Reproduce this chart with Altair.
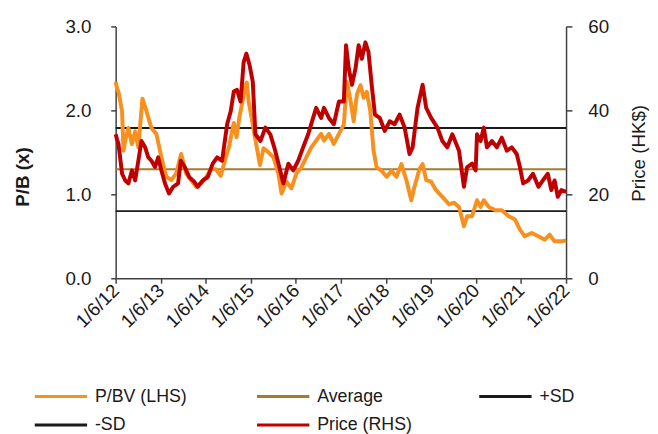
import altair as alt
import pandas as pd

# ---- data (decimal years) ----
pb_years = [2012.417, 2012.45, 2012.48, 2012.56, 2012.59, 2012.63, 2012.70, 2012.78, 2012.85, 2012.92,
            2013.01, 2013.10, 2013.21, 2013.32, 2013.43, 2013.54, 2013.65, 2013.76, 2013.87, 2013.98,
            2014.09, 2014.20, 2014.31, 2014.42, 2014.53, 2014.64, 2014.75, 2014.86, 2014.93, 2015.04,
            2015.10, 2015.16, 2015.23, 2015.30, 2015.33, 2015.37, 2015.44, 2015.52, 2015.62, 2015.70,
            2015.81, 2015.92, 2016.03, 2016.10, 2016.21, 2016.32, 2016.43, 2016.54, 2016.65, 2016.76,
            2016.87, 2016.98, 2017.04, 2017.15, 2017.26, 2017.37, 2017.48, 2017.55, 2017.63, 2017.70,
            2017.77, 2017.85, 2017.92, 2017.99, 2018.07, 2018.14, 2018.21, 2018.32, 2018.43, 2018.54,
            2018.65, 2018.76, 2018.87, 2018.98, 2019.05, 2019.16, 2019.23, 2019.31, 2019.42, 2019.53,
            2019.67, 2019.82, 2019.93, 2020.04, 2020.15, 2020.22, 2020.33, 2020.44, 2020.52, 2020.59,
            2020.70, 2020.85, 2020.99, 2021.14, 2021.28, 2021.39, 2021.50, 2021.65, 2021.80, 2021.94,
            2022.05, 2022.16, 2022.31, 2022.417]
pb_values = [2.34, 2.26, 2.22, 1.99, 1.52, 1.64, 1.79, 1.60, 1.75, 1.56,
             2.14, 1.99, 1.79, 1.72, 1.44, 1.21, 1.17, 1.25, 1.48, 1.25,
             1.17, 1.09, 1.13, 1.20, 1.30, 1.30, 1.22, 1.44, 1.56, 1.85,
             1.68, 1.91, 2.10, 2.30, 2.33, 2.10, 1.90, 1.65, 1.35, 1.55,
             1.50, 1.44, 1.25, 1.01, 1.15, 1.07, 1.25, 1.32, 1.44, 1.56,
             1.64, 1.72, 1.64, 1.72, 1.60, 1.72, 1.83, 2.34, 2.11, 1.87,
             2.19, 2.30, 2.15, 2.22, 1.99, 1.52, 1.32, 1.28, 1.21, 1.28,
             1.21, 1.36, 1.17, 0.93, 1.09, 1.30, 1.36, 1.17, 1.15, 1.05,
             0.97, 0.88, 0.90, 0.85, 0.62, 0.74, 0.74, 0.93, 0.85, 0.93,
             0.85, 0.81, 0.81, 0.74, 0.70, 0.58, 0.50, 0.54, 0.50, 0.46,
             0.52, 0.44, 0.44, 0.45]

px_years = [2012.417, 2012.45, 2012.48, 2012.56, 2012.63, 2012.70, 2012.78, 2012.85, 2012.92, 2012.99,
            2013.07, 2013.14, 2013.21, 2013.29, 2013.36, 2013.43, 2013.51, 2013.60, 2013.69, 2013.80,
            2013.86, 2013.95, 2014.05, 2014.16, 2014.24, 2014.35, 2014.46, 2014.57, 2014.67, 2014.78,
            2014.89, 2014.97, 2015.04, 2015.11, 2015.19, 2015.26, 2015.32, 2015.39, 2015.46, 2015.52,
            2015.63, 2015.74, 2015.85, 2015.96, 2016.07, 2016.14, 2016.25, 2016.36, 2016.47, 2016.58,
            2016.69, 2016.80, 2016.87, 2016.98, 2017.04, 2017.15, 2017.26, 2017.37, 2017.48, 2017.53,
            2017.59, 2017.66, 2017.74, 2017.81, 2017.88, 2017.96, 2018.03, 2018.10, 2018.17, 2018.28,
            2018.39, 2018.50, 2018.61, 2018.72, 2018.83, 2018.94, 2019.01, 2019.12, 2019.23, 2019.31,
            2019.42, 2019.56, 2019.67, 2019.78, 2019.89, 2020.04, 2020.15, 2020.22, 2020.33, 2020.41,
            2020.44, 2020.52, 2020.59, 2020.66, 2020.77, 2020.88, 2020.99, 2021.10, 2021.21, 2021.32,
            2021.39, 2021.46, 2021.57, 2021.68, 2021.80, 2021.90, 2022.01, 2022.09, 2022.16, 2022.23,
            2022.31, 2022.417]
px_values = [34.3, 33.0, 32.0, 24.9, 23.3, 22.6, 25.7, 23.3, 28.0, 32.7,
             31.2, 28.8, 28.0, 26.5, 28.8, 25.7, 22.6, 20.2, 21.8, 22.6,
             28.0, 26.5, 24.1, 23.0, 21.8, 23.3, 24.1, 27.3, 28.8, 28.0,
             36.7, 39.8, 44.5, 44.9, 42.1, 51.5, 53.5, 50.8, 46.8, 34.3,
             32.7, 35.9, 34.3, 30.4, 25.7, 22.6, 27.3, 25.7, 28.0, 31.2,
             34.3, 38.2, 40.6, 38.2, 40.6, 38.2, 36.7, 42.1, 42.1, 55.5,
             50.0, 46.1, 50.0, 55.5, 52.3, 56.2, 53.9, 46.1, 39.0, 38.2,
             35.1, 37.4, 36.7, 39.0, 35.9, 29.6, 31.2, 40.6, 46.1, 40.6,
             38.2, 35.9, 32.7, 31.2, 34.3, 30.4, 21.8, 26.5, 27.3, 25.7,
             34.3, 32.7, 35.9, 31.2, 32.7, 31.2, 33.5, 30.4, 31.2, 29.6,
             26.5, 22.6, 23.3, 24.9, 21.8, 23.3, 24.9, 21.0, 23.3, 19.4,
             21.0, 20.6]

ref_names = ["Average", "+SD", "-SD"]
ref_values = [1.30, 1.79, 0.80]

series_names = ["P/BV (LHS)", "Average", "+SD", "-SD", "Price (RHS)"]
series_colors = ["#F7901E", "#A57B2C", "#1A1A1A", "#1A1A1A", "#C00000"]
tick_years = list(range(2012, 2023))


def to_date(y):
    yr = int(y)
    start = pd.Timestamp(year=yr, month=1, day=1)
    return (start + pd.Timedelta(days=(y - yr) * 365.25)).strftime("%Y-%m-%dT00:00:00")


pb_df = pd.DataFrame({"date": [to_date(y) for y in pb_years], "pb": pb_values, "series": "P/BV (LHS)"})
px_df = pd.DataFrame({"date": [to_date(y) for y in px_years], "price": px_values, "series": "Price (RHS)"})
ref_df = pd.DataFrame({"pb": ref_values, "series": ref_names})

FONT = "Liberation Sans"

x_enc = alt.X(
    "date:T",
    scale=alt.Scale(domain=[alt.DateTime(year=2012, month=6, date=1), alt.DateTime(year=2022, month=6, date=1)]),
    axis=alt.Axis(
        values=[alt.DateTime(year=y, month=6, date=1) for y in tick_years],
        format="%-d/%-m/%y", labelAngle=315, labelAlign="right", labelBaseline="middle",
        labelPadding=4, tickSize=5, title=None, labelFontSize=19, labelOverlap=False,
    ),
)

color_enc = alt.Color(
    "series:N",
    scale=alt.Scale(domain=series_names, range=series_colors),
    legend=alt.Legend(
        title=None, orient="none", legendX=-52, legendY=362, columns=3, direction="horizontal",
        symbolType="M-4,0H1", symbolSize=449, symbolStrokeWidth=3,
        labelFont=FONT, labelFontSize=18, labelColor="#1A1A1A", labelOffset=6,
        columnPadding=61, rowPadding=7, gridAlign="all", labelLimit=200,
    ),
)

left_axis = alt.Axis(
    values=[0, 1, 2, 3], format=".1f", title="P/B (x)", titleFontWeight="bold",
    titleFontSize=19, titleAngle=270, titleX=-94, titleY=152, titleAlign="center",
    titleBaseline="middle", labelPadding=20, tickSize=5, labelFontSize=19,
)

y_left = alt.Y("pb:Q", scale=alt.Scale(domain=[0, 3]), axis=left_axis)

rules = alt.Chart(ref_df).mark_rule(strokeWidth=2).encode(y=y_left, color=color_enc)
pb_line = alt.Chart(pb_df).mark_line(strokeWidth=4, strokeJoin="round").encode(
    x=x_enc, y=y_left, color=color_enc)

left = alt.layer(rules, pb_line)

px_line = alt.Chart(px_df).mark_line(strokeWidth=4, strokeJoin="round").encode(
    x=x_enc,
    y=alt.Y(
        "price:Q", scale=alt.Scale(domain=[0, 60]),
        axis=alt.Axis(
            orient="right", values=[0, 20, 40, 60], title="Price (HK$)", titleFontWeight="normal",
            titleFontSize=19, titleAngle=270, titleX=73, titleY=128, titleAlign="center",
            titleBaseline="middle", labelPadding=16, tickSize=6, labelFontSize=19,
        ),
    ),
    color=color_enc,
)

chart = alt.layer(left, px_line).resolve_scale(y="independent").properties(
    width=456, height=255,
    autosize=alt.AutoSizeParams(type="none"),
    padding={"left": 109, "top": 16, "right": 85, "bottom": 155},
).configure_view(stroke=None).configure_axis(
    grid=False, labelFont=FONT, titleFont=FONT, labelColor="#1A1A1A", titleColor="#1A1A1A",
    domainColor="#404040", tickColor="#404040", domainWidth=1.5, tickWidth=1.5,
)

chart.save("out.html", embed_options={"renderer": "svg", "actions": False})
